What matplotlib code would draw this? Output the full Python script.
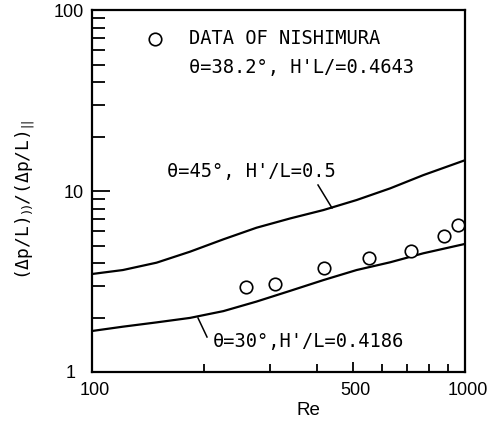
import numpy as np
import matplotlib
matplotlib.use("Agg")
import matplotlib.pyplot as plt
import matplotlib.transforms as mtransforms
from matplotlib.ticker import FixedLocator, NullFormatter

# === DATA ===
re_45 = [100, 121, 149, 183, 225, 276, 340, 417, 512, 630, 773, 990]
ratio_45 = [3.48, 3.66, 4.02, 4.62, 5.41, 6.27, 7.06, 7.85, 8.92, 10.35, 12.25, 14.7]

re_30 = [100, 121, 149, 183, 225, 276, 340, 417, 512, 630, 773, 990]
ratio_30 = [1.685, 1.78, 1.88, 1.99, 2.17, 2.45, 2.81, 3.22, 3.66, 4.04, 4.53, 5.08]

re_nish = [258, 310, 419, 554, 717, 880, 960]
ratio_nish = [2.96, 3.05, 3.77, 4.25, 4.66, 5.64, 6.49]

x_ticks = [100, 500, 1000]
x_ticklabels = ["100", "500", "1000"]
y_ticks = [1, 10, 100]
y_ticklabels = ["1", "10", "100"]

mono = "DejaVu Sans Mono"
sans = "Liberation Sans"
W, H = 488, 421


def px(xp, yp):
    # pixel position (from top-left) -> figure fraction
    return xp / W, 1 - yp / H


fig = plt.figure(figsize=(W / 100, H / 100), dpi=100)
ax = fig.add_axes([0.1885, 0.1164, 0.7645, 0.8596])

ax.plot(re_45, ratio_45, color="black", lw=1.6)
ax.plot(re_30, ratio_30, color="black", lw=1.6)
ax.plot(re_nish, ratio_nish, "o", mfc="white", mec="black", ms=9, mew=1.2)

ax.set_xscale("log")
ax.set_yscale("log")
ax.set_xlim(100, 1000)
ax.set_ylim(1, 100)

ax.xaxis.set_major_locator(FixedLocator(x_ticks))
ax.set_xticklabels(x_ticklabels, family=sans)
ax.yaxis.set_major_locator(FixedLocator(y_ticks))
ax.set_yticklabels(y_ticklabels, family=sans)
ax.xaxis.set_minor_locator(FixedLocator([200, 300, 400, 600, 700, 800, 900]))
ax.yaxis.set_minor_locator(FixedLocator([2, 3, 4, 5, 6, 7, 8, 9,
                                         20, 30, 40, 50, 60, 70, 80, 90]))
ax.xaxis.set_minor_formatter(NullFormatter())
ax.yaxis.set_minor_formatter(NullFormatter())

ax.tick_params(which="both", direction="in", top=False, right=False,
               width=1.3, labelsize=13)
ax.tick_params(axis="y", which="major", length=13, pad=6)
ax.tick_params(axis="y", which="minor", length=9)
ax.tick_params(axis="x", which="major", length=7, pad=7)
ax.tick_params(axis="x", which="minor", length=6)

# x tick labels sit a little right of their ticks in the original
shift = mtransforms.ScaledTranslation(3 / 100, 0, fig.dpi_scale_trans)
for lab in ax.get_xticklabels():
    lab.set_transform(lab.get_transform() + shift)
ax.get_yticklabels()[0].set_transform(
    ax.get_yticklabels()[0].get_transform()
    + mtransforms.ScaledTranslation(-8 / 100, 0, fig.dpi_scale_trans))

for s in ax.spines.values():
    s.set_linewidth(1.6)

ax.set_xlabel("Re", fontsize=13.5, family=sans)
ax.xaxis.set_label_coords((308 - 92) / 373, -(402 - 372) / 362)
ax.set_ylabel(r"(Δp/L)$_{))}$/(Δp/L)$_{||}$", family=mono, fontsize=13)
ax.yaxis.set_label_coords(-(92 - 37) / 373, (372 - 200) / 362)

# legend-like text
fig.add_artist(plt.Line2D([155 / W], [1 - 39 / H], marker="o", mfc="white",
                          mec="black", ms=9, mew=1.2, ls="none"))
fig.text(*px(189, 39), "DATA OF NISHIMURA", family=mono, fontsize=13.5, va="center")
fig.text(*px(189, 67), "θ=38.2°, H'L/=0.4643", family=mono, fontsize=13.5, va="center")
fig.text(*px(167, 172), "θ=45°, H'/L=0.5", family=mono, fontsize=13.5, va="center")
fig.text(*px(213, 342), "θ=30°,H'/L=0.4186", family=mono, fontsize=13.5, va="center")

# leader lines from labels to curves
for (x0, y0), (x1, y1) in [((318, 185), (332, 208)), ((198, 318), (207, 337))]:
    fig.add_artist(plt.Line2D([x0 / W, x1 / W], [1 - y0 / H, 1 - y1 / H],
                              color="black", lw=1.1))

fig.savefig("out.png", dpi=100)
